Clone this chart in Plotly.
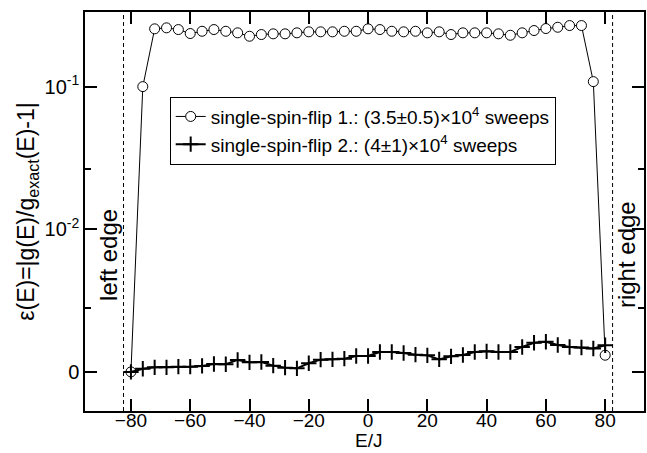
import plotly.graph_objects as go

# Energy per coupling (x values)
E_values = [-80, -76, -72, -68, -64, -60, -56, -52, -48, -44, -40, -36, -32, -28, -24, -20,
            -16, -12, -8, -4, 0, 4, 8, 12, 16, 20, 24, 28, 32, 36, 40, 44, 48, 52, 56, 60,
            64, 68, 72, 76, 80]

# Ordinates on the chart's custom error scale (0 -> "0", 1 -> "10^-2", 2 -> "10^-1")
ssf1_err = [0.0, 2.0, 2.405, 2.412, 2.400, 2.372, 2.388, 2.400, 2.388, 2.377, 2.353, 2.365,
            2.370, 2.370, 2.377, 2.384, 2.384, 2.384, 2.388, 2.388, 2.405, 2.400, 2.388,
            2.384, 2.388, 2.377, 2.384, 2.365, 2.377, 2.377, 2.377, 2.370, 2.360, 2.377,
            2.393, 2.407, 2.416, 2.428, 2.428, 2.035, 0.117]

ssf2_err = [0.0, 0.022, 0.032, 0.032, 0.037, 0.037, 0.042, 0.055, 0.054, 0.084, 0.067, 0.069,
            0.044, 0.030, 0.025, 0.061, 0.086, 0.088, 0.093, 0.112, 0.112, 0.140, 0.140,
            0.133, 0.121, 0.116, 0.088, 0.109, 0.119, 0.140, 0.144, 0.140, 0.140, 0.175,
            0.204, 0.211, 0.189, 0.175, 0.171, 0.164, 0.187]

series_names = ["single-spin-flip 1.: (3.5\u00b10.5)\u00d710<sup>4</sup> sweeps",
                "single-spin-flip 2.: (4\u00b11)\u00d710<sup>4</sup> sweeps"]

x_ticks = [-80, -60, -40, -20, 0, 20, 40, 60, 80]
y_tick_vals = [0, 1, 2]
y_tick_text = ["0", "10<sup>-2</sup>", "10<sup>-1</sup>"]
y_minor_vals = [0.449, 1.42]

edge_E = [-82.5, 82.5]
edge_labels = ["left edge", "right edge"]
edge_label_x = [-87.4, 87.4]
edge_label_y = 0.82

FONT = "Liberation Sans, Arial, Helvetica, sans-serif"

fig = go.Figure()
fig.add_trace(go.Scatter(
    x=E_values, y=ssf1_err, mode="lines+markers", name=series_names[0],
    line=dict(color="black", width=1),
    marker=dict(symbol="circle", size=10, color="white", line=dict(color="black", width=1)),
))
fig.add_trace(go.Scatter(
    x=E_values, y=ssf2_err, mode="lines+markers", name=series_names[1],
    line=dict(color="black", width=2),
    marker=dict(symbol="cross-thin", size=11, color="black", line=dict(color="black", width=2)),
))

for xe in edge_E:
    fig.add_shape(type="line", xref="x", yref="paper", x0=xe, x1=xe, y0=0, y1=1,
                  line=dict(color="black", width=1, dash="4px,3px"))

for lbl, lx in zip(edge_labels, edge_label_x):
    fig.add_annotation(x=lx, y=edge_label_y, xref="x", yref="y", text=lbl, showarrow=False,
                       textangle=-90, borderpad=0,
                       font=dict(family=FONT, size=24, color="black"))

# x-axis title placed just under the tick labels
fig.add_annotation(x=0, y=0, xref="x", yref="paper", text="E/J", showarrow=False,
                   yanchor="middle", yshift=-29, borderpad=0,
                   font=dict(family=FONT, size=19, color="black"))

fig.update_layout(
    width=647, height=453,
    margin=dict(l=85, r=1, t=12, b=42),
    paper_bgcolor="white", plot_bgcolor="white",
    font=dict(family=FONT, color="black"),
    showlegend=True,
    legend=dict(x=0.1515, y=0.788, xanchor="left", yanchor="top",
                bordercolor="black", borderwidth=1, bgcolor="white",
                font=dict(family=FONT, size=19, color="black"),
                traceorder="grouped", tracegroupgap=5),
)
fig.update_xaxes(
    range=[-95.5, 93.1], tickvals=x_ticks, ticks="inside", ticklen=12, tickwidth=1.5,
    tickcolor="black", showline=True, linewidth=1.5, linecolor="black", mirror="ticks",
    showgrid=False, zeroline=False, tickfont=dict(size=19), ticklabelstandoff=-9,
)
fig.update_yaxes(
    range=[-0.274, 2.523], tickvals=y_tick_vals, ticktext=y_tick_text, ticks="inside",
    ticklen=12, tickwidth=1.5, tickcolor="black", showline=True, linewidth=1.5,
    linecolor="black", mirror="ticks", showgrid=False, zeroline=False,
    tickfont=dict(size=20),
    minor=dict(tickvals=y_minor_vals, ticks="inside", ticklen=6, tickwidth=1.5,
               tickcolor="black", showgrid=False),
    title=dict(text="\u03b5(E)=|g(E)/g<sub>exact</sub>(E)-1|", font=dict(size=23), standoff=3),
)

# remove the browser's default page margin so the 647x453 figure fills the window
fig.write_html("out.html",
               config={"displayModeBar": False},
               post_script="document.body.style.margin='0px';document.body.style.padding='0px';")
